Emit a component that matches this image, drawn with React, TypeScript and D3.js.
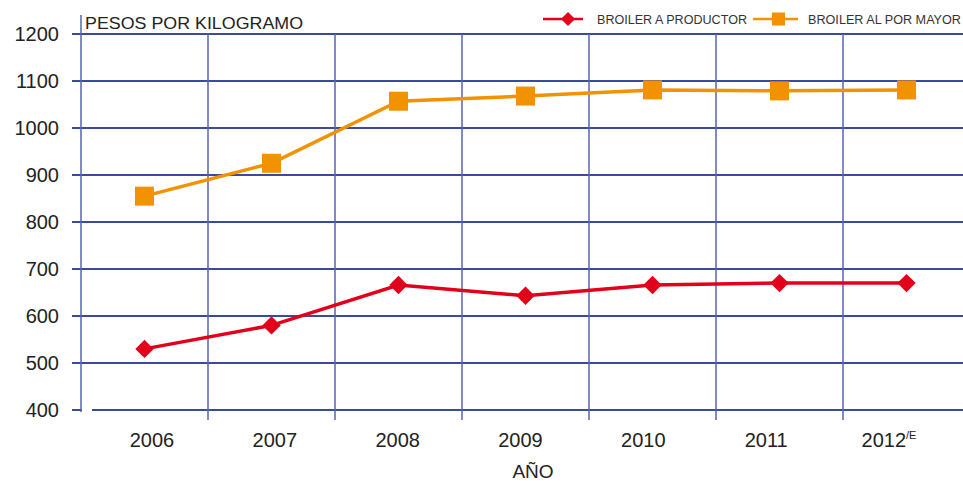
import React from "react";
import * as d3 from "d3";

const years = ["2006", "2007", "2008", "2009", "2010", "2011", "2012"];
const yearSup = ["", "", "", "", "", "", "/E"];
const productor = [530, 580, 666, 643, 666, 670, 670];
const mayor = [855, 925, 1057, 1068, 1081, 1079, 1081];
const yTicks = [400, 500, 600, 700, 800, 900, 1000, 1100, 1200];
const seriesNames = ["BROILER A PRODUCTOR", "BROILER AL POR MAYOR"];

const W = 963;
const H = 483;
const RED = "#e2001a";
const ORANGE = "#f39200";
const GRID = "#3b4a9c";
const VGRID = "#5565ae";
const FONT = "'Liberation Sans', Arial, sans-serif";

export default function App() {
  const x = d3.scaleBand<string>().domain(years).range([81, 970]).padding(0);
  const xl = d3.scalePoint<string>().domain(years).range([152, 889]);
  const y = d3.scaleLinear().domain([400, 1200]).range([410, 34]);
  const cx = (d: string) => (x(d) as number) + x.bandwidth() / 2;
  const line = d3
    .line<number>()
    .x((_, i) => cx(years[i]))
    .y((v) => y(v));

  return (
    <svg width={W} height={H} style={{ position: "absolute", left: 0, top: 0, background: "#fff" }}>
      {/* horizontal grid */}
      {yTicks.map((t) =>
        t === 400 ? (
          <g key={t}>
            <line x1={72} x2={82} y1={y(t)} y2={y(t)} stroke={GRID} strokeWidth={2} />
            <line x1={92} x2={W} y1={y(t)} y2={y(t)} stroke={GRID} strokeWidth={2} />
          </g>
        ) : (
          <line key={t} x1={72} x2={W} y1={y(t)} y2={y(t)} stroke={GRID} strokeWidth={2} />
        )
      )}
      {/* vertical grid */}
      {years.slice(1).map((yr) => (
        <line key={yr} x1={x(yr)} x2={x(yr)} y1={y(1200)} y2={420} stroke={VGRID} strokeWidth={1.5} />
      ))}
      <line x1={81} x2={81} y1={15} y2={412} stroke={VGRID} strokeWidth={1.5} />

      {/* y tick labels */}
      {yTicks.map((t) => (
        <text key={t} x={59} y={y(t) + 7} textAnchor="end" fontFamily={FONT} fontSize={20} fill="#222">
          {t}
        </text>
      ))}
      <text x={85} y={29} fontFamily={FONT} fontSize={17} fill="#222" textLength={218} lengthAdjust="spacingAndGlyphs">
        PESOS POR KILOGRAMO
      </text>

      {/* x labels */}
      {years.map((yr, i) => (
        <text key={yr} x={xl(yr)} y={447} textAnchor="middle" fontFamily={FONT} fontSize={20} fill="#222">
          {yr}
          {yearSup[i] && (
            <tspan fontSize={11} dy={-8}>
              {yearSup[i]}
            </tspan>
          )}
        </text>
      ))}
      <text x={533} y={478} textAnchor="middle" fontFamily={FONT} fontSize={19} fill="#222">
        AÑO
      </text>

      {/* series */}
      <path d={line(mayor) || ""} fill="none" stroke={ORANGE} strokeWidth={3.5} />
      {mayor.map((v, i) => (
        <rect key={i} x={cx(years[i]) - 9.5} y={y(v) - 9.5} width={19} height={19} fill={ORANGE} />
      ))}
      <path d={line(productor) || ""} fill="none" stroke={RED} strokeWidth={3.5} />
      {productor.map((v, i) => (
        <rect
          key={i}
          x={-6.5}
          y={-6.5}
          width={13}
          height={13}
          fill={RED}
          transform={`translate(${cx(years[i])},${y(v)}) rotate(45)`}
        />
      ))}

      {/* legend */}
      <g>
        <line x1={543} x2={583} y1={19} y2={19} stroke={RED} strokeWidth={2.5} />
        <rect x={-5} y={-5} width={10} height={10} fill={RED} transform="translate(568,19) rotate(45)" />
        <text x={597} y={24} fontFamily={FONT} fontSize={12.5} fill="#333" textLength={150} lengthAdjust="spacingAndGlyphs">
          {seriesNames[0]}
        </text>
        <line x1={753} x2={798} y1={19} y2={19} stroke={ORANGE} strokeWidth={2.5} />
        <rect x={772} y={12.5} width={13} height={13} fill={ORANGE} />
        <text x={808} y={24} fontFamily={FONT} fontSize={12.5} fill="#333" textLength={153} lengthAdjust="spacingAndGlyphs">
          {seriesNames[1]}
        </text>
      </g>
    </svg>
  );
}
